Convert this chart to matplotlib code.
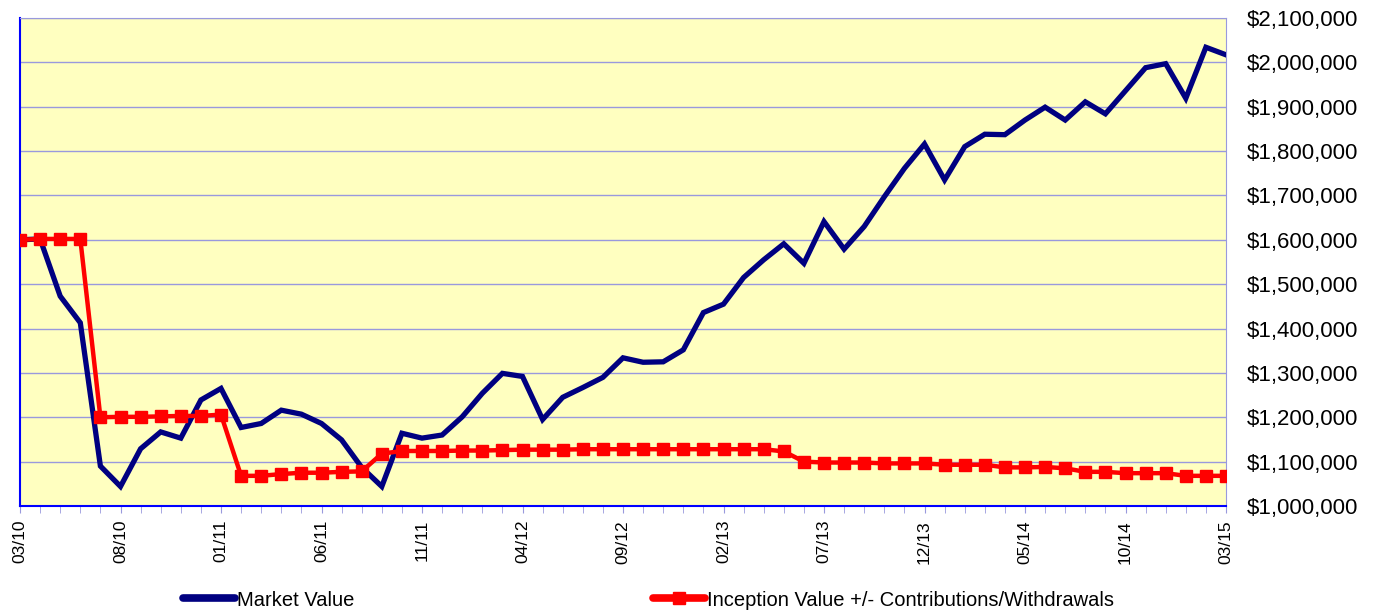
import numpy as np
import matplotlib
matplotlib.use("Agg")
import matplotlib.pyplot as plt
from matplotlib.ticker import FuncFormatter

plt.rcParams['font.family'] = ['Liberation Sans', 'DejaVu Sans']

# Monthly values, 03/10 through 03/15
market_value = [
    1600000, 1602000, 1473000, 1413000, 1090000, 1044000, 1129000, 1167000, 1153000, 1239000,
    1265000, 1177000, 1186000, 1216000, 1207000, 1186000, 1149000, 1087000, 1044000, 1164000,
    1153000, 1160000, 1201000, 1254000, 1299000, 1292000, 1195000, 1245000, 1267000, 1290000,
    1334000, 1324000, 1325000, 1352000, 1436000, 1455000, 1515000, 1555000, 1591000, 1547000,
    1641000, 1579000, 1630000, 1697000, 1761000, 1816000, 1735000, 1810000, 1838000, 1837000,
    1870000, 1899000, 1870000, 1911000, 1884000, 1936000, 1988000, 1997000, 1919000, 2034000,
    2017000,
]
inception_value = [
    1600000, 1602000, 1602000, 1602000, 1200000, 1201000, 1201000, 1202000, 1203000, 1203000,
    1206000, 1068000, 1068000, 1072000, 1075000, 1075000, 1077000, 1078000, 1118000, 1124000,
    1124000, 1124000, 1125000, 1125000, 1126000, 1127000, 1127000, 1127000, 1128000, 1128000,
    1128000, 1128000, 1128000, 1128000, 1128000, 1128000, 1128000, 1128000, 1123000, 1100000,
    1098000, 1098000, 1098000, 1096000, 1096000, 1096000, 1093000, 1093000, 1093000, 1087000,
    1087000, 1088000, 1085000, 1077000, 1077000, 1074000, 1074000, 1074000, 1068000, 1068000,
    1068000,
]
tick_labels = ["03/10", "08/10", "01/11", "06/11", "11/11", "04/12", "09/12",
               "02/13", "07/13", "12/13", "05/14", "10/14", "03/15"]

x = np.arange(len(market_value))

fig = plt.figure(figsize=(13.74, 6.10), dpi=100)
ax = fig.add_axes([20 / 1374, 1 - 506 / 610, 1206 / 1374, 488 / 610])
ax.set_facecolor("#FFFFC0")

grid_col = "#9999DD"
ax.set_axisbelow(True)
ax.grid(axis="y", color=grid_col, linewidth=1.0)

l1, = ax.plot(x, market_value, color="#000080", linewidth=3.8, solid_joinstyle="miter",
              label="Market Value", zorder=3)
l2, = ax.plot(x, inception_value, color="#FF0000", linewidth=3.2, marker="s", markersize=9,
              label="Inception Value +/- Contributions/Withdrawals", zorder=4)

ax.set_xlim(0, len(x) - 1)
ax.set_ylim(1000000, 2100000)
ax.set_yticks(np.arange(1000000, 2100001, 100000))
ax.yaxis.set_major_formatter(FuncFormatter(lambda v, p: "${:,.0f}".format(v)))
ax.yaxis.tick_right()
ax.tick_params(axis="y", length=0, pad=15, labelsize=16)

ax.set_xticks(x, minor=True)
ax.set_xticks(x[::5])
ax.set_xticklabels(tick_labels, rotation=90, fontsize=12.5)
ax.tick_params(axis="x", which="both", direction="out", length=5, color=grid_col, pad=5)

for side in ["top", "right"]:
    ax.spines[side].set_color(grid_col)
for side in ["left", "bottom"]:
    ax.spines[side].set_color("#0000FF")
    ax.spines[side].set_linewidth(1.5)

leg_line1 = plt.Line2D([], [], color="#000080", linewidth=5.5, solid_capstyle="round")
leg_line2 = plt.Line2D([], [], color="#FF0000", linewidth=5.5, marker="s", markersize=8,
                       solid_capstyle="round")
fig.legend([leg_line1, leg_line2], [l1.get_label(), l2.get_label()], ncol=2,
           loc="center left", bbox_to_anchor=(183 / 1374, 1 - 600 / 610), frameon=False,
           fontsize=14.5, handlelength=2.6, handletextpad=0.1, columnspacing=14.8,
           borderpad=0, borderaxespad=0)

fig.savefig("out.png", dpi=100)
